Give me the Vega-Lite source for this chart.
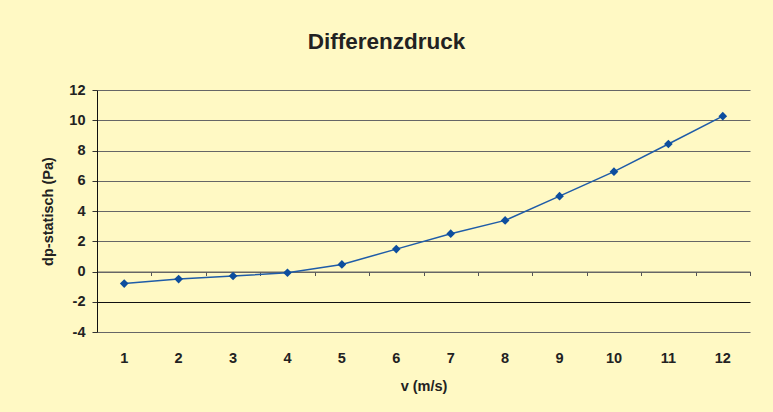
{
  "$schema": "https://vega.github.io/schema/vega-lite/v6.json",
  "width": 653,
  "height": 242,
  "autosize": {"type": "none"},
  "padding": {"left": 97, "top": 90, "right": 23, "bottom": 80},
  "background": "#FFF9C4",
  "title": {"text": "Differenzdruck", "font": "Liberation Sans", "fontSize": 22.5, "fontWeight": "bold", "color": "#222222", "offset": 29, "anchor": "middle", "dx": -37},
  "config": {
    "view": {"stroke": null},
    "axis": {"labelFont": "Liberation Sans", "titleFont": "Liberation Sans", "labelFontWeight": "bold", "titleFontWeight": "bold", "labelFontSize": 14.5, "titleFontSize": 14.5, "labelColor": "#222222", "titleColor": "#222222"}
  },
  "data": {"values": [
    {"v": 1, "dp": -0.8},
    {"v": 2, "dp": -0.5},
    {"v": 3, "dp": -0.3},
    {"v": 4, "dp": -0.08},
    {"v": 5, "dp": 0.47},
    {"v": 6, "dp": 1.48},
    {"v": 7, "dp": 2.5},
    {"v": 8, "dp": 3.38},
    {"v": 9, "dp": 4.98},
    {"v": 10, "dp": 6.6},
    {"v": 11, "dp": 8.43},
    {"v": 12, "dp": 10.27}
  ]},
  "layer": [
    {
      "mark": {"type": "line", "color": "#1F5CA8", "strokeWidth": 1.5, "point": {"shape": "diamond", "size": 75, "filled": true, "color": "#0D4E9E"}},
      "encoding": {
        "x": {"field": "v", "type": "ordinal", "scale": {"type": "band", "paddingInner": 0, "paddingOuter": 0},
          "axis": {"title": "v (m/s)", "orient": "bottom", "labelAngle": 0, "domain": false, "ticks": false, "grid": false, "labelPadding": 19, "titlePadding": 15}},
        "y": {"field": "dp", "type": "quantitative", "scale": {"domain": [-4, 12], "nice": false, "zero": false},
          "axis": {"title": "dp-statisch (Pa)", "orient": "left", "values": [-4, -2, 0, 2, 4, 6, 8, 10, 12], "labelOverlap": false, "labelExpr": "'' + datum.value", "domain": true, "domainColor": "#111111", "ticks": true, "tickSize": 5, "tickColor": "#333333", "grid": true,
            "gridColor": {"condition": {"test": "datum.value === -2", "value": "#111111"}, "value": "#666666"}, "gridOpacity": 1, "labelPadding": 7, "titlePadding": 13}}
      }
    },
    {
      "mark": {"type": "point", "opacity": 0},
      "encoding": {
        "x": {"field": "v", "type": "ordinal",
          "axis": {"title": null, "orient": "bottom", "offset": -60.5, "labels": false, "domain": true, "domainColor": "#666666", "ticks": true, "tickBand": "extent", "tickSize": 4, "tickColor": "#555555", "grid": false}},
        "y": {"field": "dp", "type": "quantitative", "axis": null}
      }
    }
  ],
  "resolve": {"axis": {"x": "independent", "y": "independent"}}
}
